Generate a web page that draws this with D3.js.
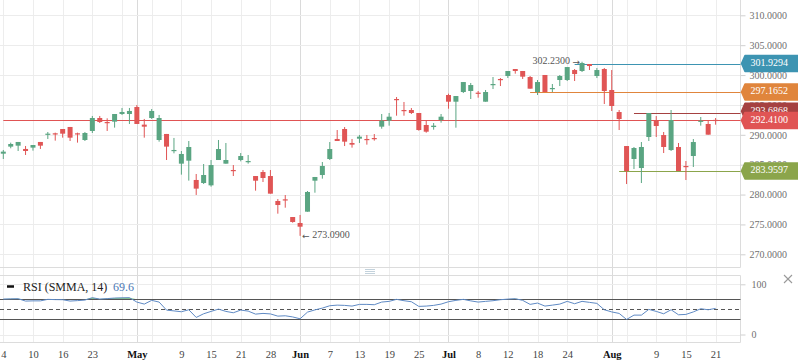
<!DOCTYPE html>
<html><head><meta charset="utf-8">
<script src="https://cdn.jsdelivr.net/npm/d3@7"></script>
<style>
html,body{margin:0;padding:0;background:#fff;}
svg{display:block;font-family:"Liberation Serif","Times New Roman",serif;}
</style></head><body>
<svg id="c" width="798" height="363"></svg>
<script>
const openV  = [286.84,288.02,288.18,287.63,287.85,288.80,290.08,290.25,290.97,291.31,290.25,289.13,290.64,292.81,292.14,292.20,293.48,293.48,294.65,291.70,292.81,289.13,290.14,287.29,285.17,285.67,282.44,281.93,281.54,285.78,285.17,284.11,285.78,285.50,283.10,283.77,283.10,278.92,279.20,276.24,275.24,277.13,282.32,283.27,285.95,289.30,290.97,288.63,289.35,289.30,289.46,291.36,292.36,295.99,294.15,294.15,293.65,291.64,291.30,292.47,296.66,295.54,297.16,297.33,297.05,295.54,298.39,299.34,299.84,301.01,300.68,299.67,297.16,300.01,297.66,299.17,299.17,300.84,300.68,301.85,299.84,301.01,297.50,293.81,288.12,285.95,284.44,289.63,292.47,289.96,287.45,287.96,284.78,286.45,292.25,291.81,292.50];
const highV  = [287.46,288.69,288.80,288.13,288.29,288.80,290.47,290.36,290.97,291.31,290.36,290.47,293.15,293.15,292.76,293.48,294.49,294.49,294.99,292.65,294.32,293.32,290.14,289.47,287.29,288.96,283.44,285.11,285.78,289.13,288.63,284.94,286.95,286.62,283.10,284.11,284.11,279.25,279.92,276.24,276.58,280.59,282.94,285.45,288.79,290.80,291.30,289.30,289.97,289.97,290.13,293.48,293.65,296.32,295.49,294.48,293.65,292.31,291.97,293.48,296.88,296.49,298.83,298.67,297.33,297.50,299.67,299.50,300.68,301.01,300.68,299.84,299.17,300.01,298.50,300.01,301.34,301.01,302.23,301.85,301.18,301.18,300.84,294.15,288.12,287.96,288.79,293.65,293.14,290.47,294.15,288.63,285.61,289.29,292.98,292.47,292.81];
const lowV   = [285.95,287.74,287.29,286.62,287.35,287.63,289.30,289.02,289.52,288.96,288.69,288.96,290.30,291.98,290.64,291.20,293.32,291.81,291.81,289.52,292.65,288.85,285.78,286.90,283.33,282.33,279.93,281.77,281.32,285.78,285.17,283.10,285.56,285.17,280.65,282.10,280.15,276.80,277.80,275.29,273.09,277.13,280.31,282.66,285.78,288.96,288.12,287.85,288.63,288.35,289.02,291.02,291.53,293.20,293.20,293.48,290.69,290.35,290.86,292.03,294.37,291.19,296.99,295.99,296.21,295.54,297.66,298.16,299.50,300.23,299.34,297.72,296.66,297.16,297.16,298.16,299.00,299.00,300.51,300.84,299.50,295.15,293.98,290.80,281.76,284.27,281.93,288.96,289.63,286.95,287.29,283.94,282.43,284.61,291.53,290.02,291.69];
const closeV = [287.18,288.46,288.80,287.29,288.29,288.18,290.19,290.08,290.19,289.52,290.08,290.30,292.81,292.14,292.03,293.48,293.82,293.99,291.81,291.36,293.99,292.81,288.02,287.46,286.79,287.96,280.99,283.27,284.94,287.62,285.78,284.00,286.45,285.61,282.32,282.77,280.15,278.25,279.09,275.41,274.62,280.43,282.94,284.78,287.62,288.96,288.85,288.35,289.69,289.18,289.30,292.36,293.03,295.82,293.98,293.65,290.80,290.52,291.53,293.03,295.54,296.49,298.83,298.33,296.88,297.16,298.50,299.22,300.68,300.68,299.73,297.72,298.83,297.16,297.83,299.84,301.34,300.17,302.01,301.51,300.84,297.33,294.82,292.64,283.94,287.79,287.96,293.65,291.47,287.96,292.47,283.94,284.66,288.79,292.36,290.02,292.41];
const rsiV   = [70.6,71,71.3,66.6,67,67,70,69.5,69.3,66.6,67.5,68.6,73.3,70.6,71.5,72.6,73,73.3,64.6,60.6,68,64.6,48.6,47,45.3,49.3,34,41.3,46,50.6,46,43.3,48.6,46.6,40.6,42,41,36.6,37.3,35,31.3,44.6,49,52.6,57.3,58.5,58,56.6,60,60,59.3,64.6,66,70,67.3,65.3,56,56.6,58,60.6,65.3,68,70,67,64.6,66,67.3,69.3,70.5,71.3,68,60,62.6,56.6,58.5,60.6,66,61.3,66,64,62,49.3,45,42,30,38.6,38.6,50,46,41.3,49.3,39.3,40,45,51.3,49.3,52];

const tickIdx    = [0,4,8,12,18,24,28,32,36,40,44,48,52,56,60,64,68,72,76,82,88,92,96];
const tickLabels = ["4","10","16","23","May","9","15","21","28","Jun","7","13","19","25","Jul","8","12","18","24","Aug","9","15","21"];
const monthNames = ["May","Jun","Jul","Aug"];
const gridIdx    = [0,4,8,12,16,20,24,28,32,36,40,44,48,52,56,60,64,68,72,76,80,84,88,92,96];
const monthIdx   = [18,40,60,82];
const yTicks     = [270,275,280,285,290,295,300,305,310];
const rsiTicks   = [0,100];
const rsiBands   = [70,50,30];
const levelValues = [301.9294,297.1652,293.6868,292.4100,283.9597];
const levelStart  = [77,71,85,0,83];
const maxIdx = 78, minIdx = 40;

const W = 798, plotR = 740.5;
const svg = d3.select("#c");
const x  = d3.scaleLinear().domain([0,96]).range([3.3,715.6]);
const y  = d3.scaleLinear().domain([270,310]).range([254.3,15.3]);
const ry = d3.scaleLinear().domain([0,100]).range([334.5,284.3]);

// vertical grid
const g = svg.append("g");
g.selectAll("line.vg").data(gridIdx).join("line")
  .attr("x1",d=>Math.round(x(d))+0.5).attr("x2",d=>Math.round(x(d))+0.5)
  .attr("y1",0).attr("y2",342).attr("stroke","#ededed");
g.selectAll("line.mg").data(monthIdx).join("line")
  .attr("x1",d=>Math.round(x(d))+0.5).attr("x2",d=>Math.round(x(d))+0.5)
  .attr("y1",0).attr("y2",342).attr("stroke","#dadada");
// horizontal grid main
g.selectAll("line.hg").data(yTicks).join("line")
  .attr("x1",0).attr("x2",plotR).attr("y1",d=>Math.round(y(d))+0.5).attr("y2",d=>Math.round(y(d))+0.5)
  .attr("stroke","#ececec");
// rsi grid
g.selectAll("line.rg").data(rsiTicks).join("line")
  .attr("x1",0).attr("x2",plotR).attr("y1",d=>Math.round(ry(d))+0.5).attr("y2",d=>Math.round(ry(d))+0.5)
  .attr("stroke","#ececec");

// panel borders
const b = svg.append("g").attr("stroke","#dcdcdc").attr("fill","none");
b.append("line").attr("x1",0).attr("x2",plotR).attr("y1",267.5).attr("y2",267.5);
b.append("line").attr("x1",plotR).attr("x2",plotR).attr("y1",0).attr("y2",267.5);
b.append("line").attr("x1",0).attr("x2",plotR).attr("y1",275.5).attr("y2",275.5);
b.append("line").attr("x1",0).attr("x2",plotR).attr("y1",342.5).attr("y2",342.5);
b.append("line").attr("x1",plotR).attr("x2",plotR).attr("y1",275.5).attr("y2",342.5);
// handle
svg.append("g").selectAll("line").data([0,1,2]).join("line")
  .attr("x1",365).attr("x2",375).attr("y1",d=>269.5+d*2).attr("y2",d=>269.5+d*2)
  .attr("stroke","#c3d2dc");

// y axis
const ya = svg.append("g").attr("transform",`translate(${plotR},0)`)
  .call(d3.axisRight(y).tickValues(yTicks).tickFormat(d3.format(".4f")).tickSize(5).tickPadding(4));
ya.select(".domain").remove();
ya.selectAll("line").attr("stroke","#d0d0d0");
ya.selectAll("text").attr("fill","#707070").style("font-size","10px").style("font-family","Liberation Serif");

// rsi axis
const ra = svg.append("g").attr("transform",`translate(${plotR},0)`)
  .call(d3.axisRight(ry).tickValues(rsiTicks).tickFormat(d3.format("d")).tickSize(5).tickPadding(6));
ra.select(".domain").remove();
ra.selectAll("line").attr("stroke","#d0d0d0");
ra.selectAll("text").attr("fill","#707070").style("font-size","10px").style("font-family","Liberation Serif");

// x axis
const xa = svg.append("g").attr("transform","translate(0,346)")
  .call(d3.axisBottom(x).tickValues(tickIdx).tickFormat((d,i)=>tickLabels[i]).tickSize(0).tickPadding(5));
xa.select(".domain").remove();
xa.selectAll("text").style("font-size","10.5px").style("font-family","Liberation Serif")
  .style("font-weight",(d,i)=>monthNames.includes(tickLabels[i])?"bold":"normal")
  .attr("fill",(d,i)=>monthNames.includes(tickLabels[i])?"#111":"#444");

// level lines
const levelColors = ["#3d94b2","#e0853c","#a54141","#e05454","#8ba54b"];
svg.append("g").selectAll("line").data(levelValues).join("line")
  .attr("x1",(d,i)=>x(levelStart[i])).attr("x2",plotR)
  .attr("y1",d=>Math.round(y(d))+0.5).attr("y2",d=>Math.round(y(d))+0.5)
  .attr("stroke",(d,i)=>levelColors[i]).attr("stroke-width",1.1);

// candles
const up = "#5aa582", dn = "#e05555";
const idx = d3.range(openV.length);
const cg = svg.append("g");
cg.selectAll("line").data(idx).join("line")
  .attr("x1",i=>x(i)).attr("x2",i=>x(i)).attr("y1",i=>y(highV[i])).attr("y2",i=>y(lowV[i]))
  .attr("stroke",i=>closeV[i]>=openV[i]?up:dn).attr("stroke-width",1);
cg.selectAll("rect").data(idx).join("rect")
  .attr("x",i=>x(i)-2.5).attr("width",5)
  .attr("y",i=>Math.min(y(openV[i]),y(closeV[i])))
  .attr("height",i=>Math.max(1.2,Math.abs(y(openV[i])-y(closeV[i]))))
  .attr("fill",i=>closeV[i]>=openV[i]?up:dn);

// annotations
const annot = svg.append("g").style("font-size","10px").attr("fill","#555");
const t1 = annot.append("text").attr("x",x(maxIdx)-2).attr("y",y(highV[maxIdx])).attr("text-anchor","end")
  .attr("dominant-baseline","middle");
t1.append("tspan").text(highV[maxIdx].toFixed(4)+" ");
t1.append("tspan").style("font-family","DejaVu Sans").style("font-size","9px").text("\u2192");
const t2 = annot.append("text").attr("x",x(minIdx)+2).attr("y",y(lowV[minIdx])).attr("text-anchor","start")
  .attr("dominant-baseline","middle");
t2.append("tspan").style("font-family","DejaVu Sans").style("font-size","9px").text("\u2190");
t2.append("tspan").text(" "+lowV[minIdx].toFixed(4));

// tags
const tg = svg.append("g");
levelValues.forEach((v,i)=>{
  const cy = y(v) - (i===2?1.5:0);
  const x0 = 741.5;
  tg.append("path")
    .attr("d",`M${x0},${cy} L${x0+3.5},${cy-8} L${W},${cy-8} L${W},${cy+8} L${x0+3.5},${cy+8} Z`)
    .attr("fill",levelColors[i]).attr("stroke",levelColors[i]).attr("stroke-linejoin","round").attr("stroke-width",1.5);
  tg.append("text").attr("x",750.5).attr("y",cy).attr("dominant-baseline","middle")
    .attr("fill","#fff").style("font-size","10px").text(v.toFixed(4));
});

// rsi
const rg = svg.append("g");
rg.append("path").datum(rsiV)
  .attr("d",d3.area().x((d,i)=>x(i)).y0(ry(70)).y1(d=>ry(Math.max(d,70))))
  .attr("fill","#7cc67a").attr("opacity",0.9);
rg.selectAll("line").data(rsiBands).join("line")
  .attr("x1",0).attr("x2",plotR).attr("y1",d=>Math.round(ry(d))+0.5).attr("y2",d=>Math.round(ry(d))+0.5)
  .attr("stroke","#555").attr("stroke-dasharray",d=>d===50?"4,3":null);
rg.append("path").datum(rsiV)
  .attr("d",d3.line().x((d,i)=>x(i)).y(d=>ry(d)))
  .attr("fill","none").attr("stroke","#5f8ac4").attr("stroke-width",1);

// legend
svg.append("line").attr("x1",7).attr("x2",14).attr("y1",286.5).attr("y2",286.5).attr("stroke","#111").attr("stroke-width",2.5);
svg.append("text").attr("x",23).attr("y",290.5).style("font-size","12px").attr("fill","#222").text("RSI (SMMA, 14)");
svg.append("text").attr("x",113).attr("y",290.5).style("font-size","12px").attr("fill","#4a78b4").text("69.6");

// close icon
svg.append("g").attr("stroke","#999").attr("stroke-width",1.1)
  .selectAll("line").data([[784,275,792,283],[792,275,784,283]]).join("line")
  .attr("x1",d=>d[0]).attr("y1",d=>d[1]).attr("x2",d=>d[2]).attr("y2",d=>d[3]);
</script>
</body></html>
